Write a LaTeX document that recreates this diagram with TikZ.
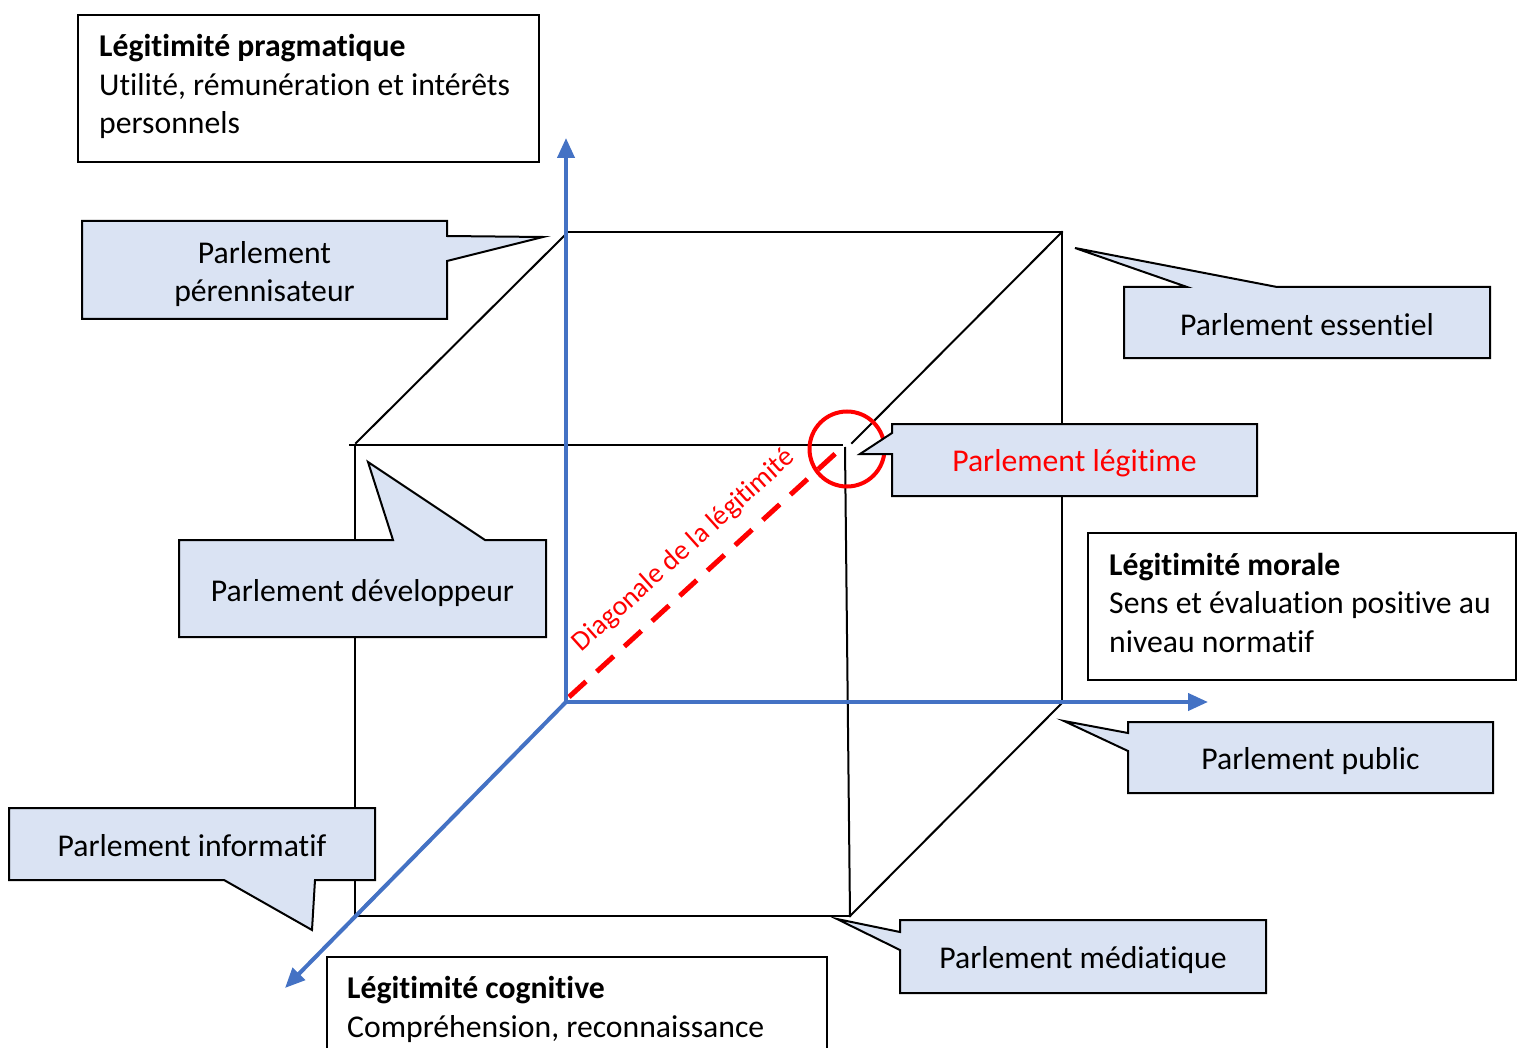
\documentclass[tikz,border=0pt]{standalone}
\usepackage{fontspec}
\setmainfont{Carlito}[Ligatures=NoCommon]
\usetikzlibrary{arrows.meta}
\definecolor{axisblue}{HTML}{4472C4}
\definecolor{calfill}{HTML}{DAE3F3}
\definecolor{diagred}{HTML}{FF0000}

\begin{document}
\begin{tikzpicture}[x=1pt,y=-1pt,
  cube/.style={line width=2pt, black, line cap=rect},
  axis/.style={line width=4pt, axisblue, -{Triangle[length=20pt,width=17pt]}},
  callout/.style={draw=black, fill=calfill, line width=2pt, line join=miter},
  infobox/.style={draw=black, line width=1.2pt},
  txt/.style={font=\fontsize{31.7}{38.5}\selectfont, inner sep=0pt},
  ctxt/.style={txt, align=center},
  linetxt/.style={txt, anchor=base west},
  ]
\useasboundingbox (0,0) rectangle (1517,1048);

% cube corners
\coordinate (B1) at (566,232);  \coordinate (B2) at (1062,232);
\coordinate (B3) at (1062,702); \coordinate (O)  at (566,702);
\coordinate (F1) at (352,445);  \coordinate (F2) at (845,445);
\coordinate (F3) at (850,916);  \coordinate (F4) at (355,916);

% cube edges
\draw[cube] (B1) -- (B2) -- (B3);
\draw[cube] (350,445) -- (842,445);
\draw[cube] (355,445) -- (F4) -- (F3);
\draw[cube] (845,448) -- (F3);
\draw[cube] (356,443) -- (566,234);
\draw[cube] (852,443) -- (B2);
\draw[cube] (F3) -- (1062,703);
\draw[cube] (F4) -- (O);

% diagonal of legitimacy
\coordinate (D0) at (569,697);
\coordinate (D1) at (836,453);
\draw[diagred, line width=5pt, dash pattern=on 23pt off 14.5pt] (D0) -- (D1);
\node[diagred, font=\fontsize{28}{34}\selectfont, inner sep=0pt, rotate=42, anchor=base] (diaglbl) at (689,556) {Diagonale de la légitimité};
\draw[diagred, line width=4pt] (847,449) circle[radius=37.5];

% axes
\draw[axis] (O) -- (566,138);
\draw[axis] (O) -- (1208,702);
\draw[axis] (O) -- (285,988);

% callouts
\draw[callout] (82,221) -- (447,221) -- (447,236) -- (543,237) -- (447,261) -- (447,319) -- (82,319) -- cycle;
\node[ctxt] (pere) at (264.5,274) {Parlement\\pérennisateur};

\draw[callout] (1124,287) -- (1187,287) -- (1075,248) -- (1277,287) -- (1490,287) -- (1490,358) -- (1124,358) -- cycle;
\node[ctxt] (ess) at (1307,324.5) {Parlement essentiel};

\draw[callout] (892,424) -- (1257,424) -- (1257,496) -- (892,496) -- (892,454) -- (860,454) -- (892,433) -- cycle;
\node[ctxt, diagred] (legit) at (1074.5,463) {Parlement légitime};

\draw[callout] (179,540) -- (393,540) -- (368,462) -- (485,540) -- (546,540) -- (546,637) -- (179,637) -- cycle;
\node[ctxt] (dev) at (362.5,593) {Parlement développeur};

\draw[callout] (1128,722) -- (1493,722) -- (1493,793) -- (1128,793) -- (1128,751) -- (1064,721) -- (1128,733) -- cycle;
\node[ctxt] (pub) at (1310.5,761.5) {Parlement public};

\draw[callout] (9,808) -- (375,808) -- (375,880) -- (315,880) -- (312,930) -- (224,880) -- (9,880) -- cycle;
\node[ctxt] (info) at (192,846) {Parlement informatif};

\draw[callout] (900,920) -- (1266,920) -- (1266,993) -- (900,993) -- (900,950) -- (837,919) -- (900,932) -- cycle;
\node[ctxt] (med) at (1083,960.5) {Parlement médiatique};

% legitimacy boxes
\draw[infobox] (78,15) rectangle (539,162);
\node[linetxt, font=\fontsize{31.7}{38.5}\selectfont\bfseries] (prag1) at (99,57) {Légitimité pragmatique};
\node[linetxt] (prag2) at (99,95.5) {Utilité, rémunération et intérêts};
\node[linetxt] (prag3) at (99,134) {personnels};

\draw[infobox] (1088,533) rectangle (1516,680);
\node[linetxt, font=\fontsize{31.7}{38.5}\selectfont\bfseries] (mor1) at (1109,575) {Légitimité morale};
\node[linetxt] (mor2) at (1109,613.5) {Sens et évaluation positive au};
\node[linetxt] (mor3) at (1109,652) {niveau normatif};

\draw[infobox] (327,1052) -- (327,957) -- (827,957) -- (827,1052);
\node[linetxt, font=\fontsize{31.7}{38.5}\selectfont\bfseries] (cog1) at (347,998.5) {Légitimité cognitive};
\node[linetxt] (cog2) at (347,1037) {Compréhension, reconnaissance};
\end{tikzpicture}
\end{document}
